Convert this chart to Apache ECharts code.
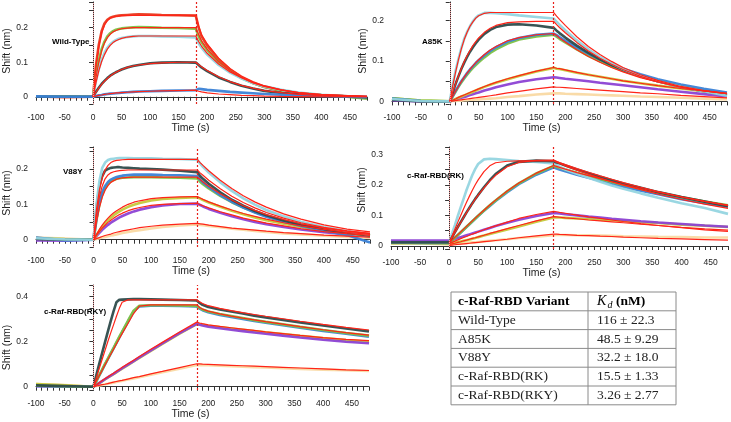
<!DOCTYPE html>
<html><head><meta charset="utf-8">
<script src="https://cdn.jsdelivr.net/npm/echarts@6/dist/echarts.min.js"></script>
<style>html,body{margin:0;padding:0;background:#fff}#c{width:731px;height:422px}</style>
</head><body><div id="c"></div>
<script>
// ---- time axes (s) ----
const T_BASE = [-100, -50];
const T_ASSOC = [0,5,10,15,20,25,30,35,40,45,50,60,70,80,100,120,150,180];
const T_DISS = [185,190,200,220,240,260,280,300,330,360,400,440,480];

// ---- panel titles and Kd table ----
const panelNames = ['Wild-Type','A85K','V88Y','c-Raf-RBD(RK)','c-Raf-RBD(RKY)'];
const tableVariants = ['Wild-Type','A85K','V88Y','c-Raf-RBD(RK)','c-Raf-RBD(RKY)'];
const tableKd = ['116 ± 22.3','48.5 ± 9.29','32.2 ± 18.0','15.5 ± 1.33','3.26 ± 2.77'];

// ---- Wild-Type ----
const wtRed = {base:[0.001,-0.001], a:[0,0.09,0.15,0.19,0.212,0.223,0.229,0.232,0.234,0.235,0.236,0.237,0.238,0.239,0.238,0.237,0.236,0.235], d:[0.2,0.175,0.148,0.108,0.078,0.056,0.04,0.028,0.017,0.01,0.005,0.002,-0.002]};
const wtRedFit = {a:[0,0.085,0.145,0.185,0.208,0.221,0.228,0.231,0.233,0.234,0.235,0.236,0.236,0.236,0.236,0.236,0.236,0.236], d:[0.205,0.18,0.153,0.112,0.082,0.06,0.044,0.032,0.02,0.012,0.006,0.003,0.0015]};
const wtGreen = {base:[0,0.001], a:[0,0.06,0.105,0.138,0.16,0.175,0.184,0.19,0.194,0.196,0.198,0.2,0.201,0.202,0.201,0.2,0.199,0.197], d:[0.175,0.158,0.135,0.1,0.074,0.054,0.04,0.029,0.018,0.011,0.005,0.001,-0.006]};
const wtGreenFit = {a:[0,0.055,0.1,0.133,0.156,0.171,0.181,0.188,0.192,0.195,0.197,0.199,0.2,0.2,0.2,0.2,0.2,0.2], d:[0.18,0.162,0.138,0.102,0.076,0.056,0.041,0.03,0.019,0.011,0.006,0.003,0.001]};
const wtCyan = {base:[0,0], a:[0,0.045,0.08,0.107,0.127,0.142,0.152,0.159,0.164,0.168,0.17,0.173,0.175,0.176,0.176,0.175,0.174,0.172], d:[0.155,0.142,0.122,0.092,0.07,0.053,0.04,0.03,0.02,0.012,0.006,0.002,-0.003]};
const wtCyanFit = {a:[0,0.04,0.075,0.102,0.122,0.138,0.149,0.157,0.162,0.166,0.169,0.173,0.175,0.176,0.176,0.176,0.176,0.176], d:[0.16,0.147,0.126,0.095,0.072,0.055,0.041,0.031,0.02,0.012,0.006,0.003,0.001]};
const wtDark = {base:[0,0], a:[0,0.014,0.026,0.037,0.046,0.054,0.061,0.066,0.071,0.075,0.079,0.085,0.089,0.092,0.097,0.099,0.1,0.099], d:[0.092,0.085,0.074,0.056,0.043,0.032,0.024,0.017,0.011,0.007,0.003,0.001,-0.002]};
const wtDarkFit = {a:[0,0.013,0.025,0.036,0.045,0.053,0.06,0.066,0.071,0.075,0.079,0.085,0.089,0.092,0.096,0.098,0.1,0.1], d:[0.093,0.087,0.076,0.058,0.044,0.033,0.025,0.018,0.012,0.007,0.003,0.001,0.0005]};
const wtBlue = {base:[0.001,0], a:[0,0.002,0.004,0.005,0.007,0.008,0.009,0.0095,0.01,0.011,0.012,0.013,0.014,0.015,0.016,0.017,0.018,0.019], d:[0.023,0.022,0.02,0.017,0.014,0.012,0.01,0.008,0.006,0.004,0.002,0.001,0]};
const wtBlueFit = {a:[0,0.002,0.004,0.005,0.007,0.008,0.009,0.01,0.011,0.011,0.012,0.013,0.014,0.015,0.016,0.017,0.018,0.019], d:[0.016,0.014,0.011,0.008,0.006,0.004,0.003,0.002,0.001,0.0005,0,0,0]};

// ---- A85K ----
const aCyan = {base:[0.006,0.001], a:[0,0.04,0.075,0.105,0.132,0.155,0.172,0.186,0.198,0.207,0.213,0.219,0.219,0.218,0.216,0.213,0.209,0.205], d:[0.197,0.19,0.176,0.151,0.129,0.11,0.094,0.08,0.063,0.05,0.036,0.025,0.014]};
const aCyanFit = {a:[0,0.038,0.072,0.103,0.13,0.153,0.171,0.186,0.197,0.206,0.212,0.218,0.22,0.22,0.22,0.22,0.22,0.22], d:[0.211,0.203,0.188,0.16,0.136,0.116,0.099,0.084,0.066,0.052,0.037,0.027,0.02]};
const aDark = {base:[0.004,0], a:[0,0.022,0.043,0.062,0.08,0.096,0.11,0.123,0.134,0.144,0.153,0.167,0.177,0.184,0.19,0.191,0.188,0.182], d:[0.175,0.169,0.158,0.138,0.12,0.104,0.09,0.078,0.062,0.05,0.036,0.025,0.016]};
const aDarkFit = {a:[0,0.022,0.043,0.063,0.081,0.098,0.113,0.126,0.138,0.148,0.157,0.171,0.181,0.188,0.195,0.197,0.198,0.198], d:[0.19,0.183,0.17,0.146,0.125,0.107,0.092,0.079,0.062,0.049,0.035,0.026,0.019]};
const aBlue = {base:[0.007,0.001], a:[0,0.013,0.026,0.038,0.05,0.06,0.07,0.079,0.087,0.095,0.102,0.114,0.125,0.134,0.148,0.157,0.165,0.168], d:[0.164,0.159,0.15,0.134,0.118,0.104,0.092,0.081,0.067,0.055,0.042,0.031,0.022]};
const aGreen = {base:[0.008,0.002], a:[0,0.012,0.024,0.036,0.047,0.057,0.066,0.075,0.083,0.09,0.097,0.109,0.12,0.129,0.143,0.153,0.161,0.165], d:[0.16,0.155,0.146,0.129,0.113,0.099,0.087,0.076,0.062,0.05,0.037,0.027,0.018]};
const aBlueFit = {a:[0,0.012,0.025,0.037,0.049,0.06,0.07,0.079,0.088,0.096,0.103,0.116,0.127,0.136,0.15,0.158,0.165,0.168], d:[0.163,0.157,0.147,0.128,0.111,0.097,0.084,0.073,0.059,0.048,0.035,0.026,0.019]};
const aOlive = {base:[0.008,0.002], a:[0,0.003,0.006,0.009,0.012,0.015,0.018,0.021,0.024,0.027,0.03,0.036,0.041,0.046,0.055,0.063,0.074,0.083], d:[0.081,0.08,0.077,0.071,0.066,0.061,0.056,0.051,0.045,0.039,0.032,0.025,0.016]};
const aOliveFit = {a:[0,0.003,0.006,0.01,0.013,0.016,0.019,0.022,0.025,0.028,0.031,0.037,0.042,0.047,0.056,0.064,0.075,0.084], d:[0.082,0.081,0.078,0.072,0.066,0.061,0.056,0.051,0.045,0.039,0.032,0.026,0.02]};
const aPurple = {base:[0.003,0], a:[0,0.002,0.005,0.007,0.009,0.011,0.013,0.016,0.018,0.02,0.022,0.027,0.031,0.035,0.042,0.048,0.055,0.06], d:[0.059,0.058,0.056,0.053,0.05,0.046,0.043,0.04,0.035,0.03,0.024,0.018,0.012]};
const aLowFit = {a:[0,0.001,0.002,0.003,0.004,0.005,0.006,0.007,0.008,0.009,0.01,0.012,0.014,0.016,0.021,0.025,0.031,0.036], d:[0.035,0.035,0.034,0.032,0.03,0.028,0.026,0.024,0.021,0.019,0.015,0.012,0.009]};
const aPale = {base:[0.004,0.001], a:[0,0.001,0.001,0.002,0.002,0.003,0.003,0.004,0.004,0.005,0.005,0.006,0.007,0.008,0.011,0.013,0.017,0.02], d:[0.02,0.02,0.019,0.018,0.017,0.016,0.015,0.014,0.012,0.011,0.009,0.007,0.005]};

// ---- V88Y ----
const vCyan = {base:[0.004,0.001], a:[0,0.1,0.165,0.203,0.218,0.225,0.228,0.229,0.23,0.231,0.231,0.231,0.23,0.23,0.23,0.229,0.228,0.226], d:[0.215,0.206,0.19,0.162,0.138,0.117,0.099,0.084,0.066,0.051,0.036,0.024,0.014]};
const vCyanFit = {a:[0,0.085,0.14,0.175,0.197,0.21,0.218,0.222,0.224,0.225,0.226,0.227,0.227,0.227,0.227,0.227,0.227,0.227], d:[0.218,0.21,0.195,0.168,0.145,0.124,0.107,0.092,0.073,0.058,0.042,0.03,0.022]};
const vDark = {base:[0.002,0], a:[0,0.09,0.15,0.18,0.195,0.2,0.203,0.204,0.205,0.205,0.204,0.203,0.202,0.201,0.2,0.198,0.195,0.191], d:[0.18,0.172,0.158,0.134,0.113,0.096,0.081,0.069,0.054,0.042,0.03,0.02,0.012]};
const vDarkFit = {a:[0,0.07,0.12,0.152,0.172,0.183,0.189,0.192,0.194,0.195,0.196,0.197,0.197,0.197,0.197,0.197,0.197,0.197], d:[0.189,0.182,0.168,0.144,0.123,0.105,0.09,0.077,0.061,0.048,0.035,0.025,0.018]};
const vBlue = {base:[0.006,-0.002], a:[0,0.06,0.105,0.135,0.152,0.163,0.17,0.174,0.177,0.179,0.181,0.183,0.184,0.184,0.184,0.183,0.182,0.18], d:[0.17,0.162,0.149,0.126,0.107,0.091,0.077,0.065,0.051,0.039,0.026,0.013,-0.008]};
const vGreen = {base:[0.003,0], a:[0,0.055,0.098,0.128,0.146,0.158,0.165,0.169,0.172,0.174,0.175,0.176,0.177,0.177,0.177,0.176,0.175,0.173], d:[0.164,0.157,0.145,0.124,0.106,0.091,0.078,0.067,0.053,0.042,0.03,0.02,0.012]};
const vGreenFit = {a:[0,0.05,0.09,0.12,0.14,0.153,0.162,0.167,0.171,0.173,0.175,0.176,0.177,0.177,0.177,0.177,0.177,0.177], d:[0.17,0.163,0.151,0.13,0.112,0.096,0.083,0.071,0.057,0.045,0.033,0.024,0.017]};
const vOlive = {base:[0.005,0.002], a:[0,0.013,0.025,0.036,0.046,0.055,0.062,0.069,0.075,0.08,0.085,0.093,0.099,0.104,0.111,0.115,0.118,0.12], d:[0.116,0.112,0.105,0.093,0.082,0.072,0.063,0.055,0.045,0.036,0.026,0.018,0.012]};
const vOliveFit = {a:[0,0.015,0.029,0.041,0.052,0.061,0.069,0.076,0.082,0.087,0.092,0.1,0.106,0.11,0.116,0.119,0.121,0.122], d:[0.118,0.114,0.107,0.095,0.084,0.074,0.066,0.058,0.048,0.039,0.029,0.021,0.015]};
const vPurple = {base:[-0.002,-0.003], a:[0,0.01,0.019,0.028,0.035,0.042,0.048,0.053,0.058,0.063,0.067,0.074,0.08,0.085,0.092,0.097,0.101,0.102], d:[0.098,0.094,0.087,0.076,0.066,0.058,0.05,0.044,0.036,0.029,0.021,0.015,0.01]};
const vPurpleFit = {a:[0,0.012,0.023,0.033,0.041,0.049,0.055,0.061,0.066,0.071,0.075,0.082,0.087,0.091,0.097,0.1,0.102,0.103], d:[0.099,0.096,0.09,0.079,0.07,0.061,0.054,0.047,0.039,0.031,0.023,0.017,0.012]};
const vPale = {base:[0.006,0.003], a:[0,0.002,0.004,0.006,0.008,0.01,0.012,0.013,0.015,0.017,0.019,0.022,0.025,0.027,0.032,0.036,0.04,0.043], d:[0.042,0.041,0.039,0.035,0.031,0.028,0.025,0.022,0.018,0.015,0.011,0.008,0.005]};
const vPaleFit = {a:[0,0.003,0.006,0.009,0.012,0.014,0.016,0.019,0.021,0.023,0.025,0.028,0.031,0.034,0.038,0.041,0.044,0.046], d:[0.045,0.044,0.041,0.037,0.033,0.03,0.027,0.024,0.02,0.017,0.013,0.01,0.007]};

// ---- c-Raf-RBD(RK) ----
const rCyan = {base:[0.012,0.012], a:[0.012,0.04,0.068,0.098,0.127,0.155,0.183,0.208,0.232,0.252,0.268,0.283,0.285,0.284,0.281,0.278,0.275,0.27], d:[0.264,0.259,0.25,0.236,0.223,0.21,0.198,0.187,0.172,0.158,0.14,0.124,0.105]};
const rCyanFit = {a:[0.01,0.032,0.055,0.078,0.1,0.122,0.143,0.163,0.182,0.2,0.216,0.243,0.262,0.272,0.277,0.278,0.278,0.278], d:[0.274,0.27,0.262,0.248,0.235,0.222,0.21,0.199,0.184,0.169,0.152,0.137,0.123]};
const rDark = {base:[0.012,0.012], a:[0.012,0.028,0.045,0.062,0.078,0.094,0.11,0.125,0.14,0.154,0.167,0.192,0.215,0.235,0.263,0.275,0.279,0.277], d:[0.273,0.27,0.263,0.25,0.238,0.226,0.215,0.204,0.19,0.176,0.16,0.145,0.13]};
const rDarkFit = {a:[0.01,0.027,0.044,0.061,0.077,0.093,0.109,0.124,0.139,0.153,0.166,0.19,0.212,0.231,0.259,0.273,0.28,0.281], d:[0.277,0.273,0.266,0.253,0.241,0.229,0.218,0.207,0.192,0.178,0.161,0.146,0.132]};
const rGreen = {base:[0.01,0.01], a:[0.01,0.018,0.027,0.036,0.045,0.054,0.063,0.072,0.081,0.09,0.099,0.116,0.133,0.149,0.179,0.205,0.237,0.262], d:[0.259,0.256,0.25,0.239,0.229,0.219,0.209,0.2,0.187,0.175,0.159,0.145,0.133]};
const rBlue = {base:[0.012,0.01], a:[0.01,0.018,0.026,0.035,0.044,0.053,0.062,0.071,0.08,0.089,0.098,0.115,0.131,0.147,0.176,0.202,0.233,0.257], d:[0.253,0.25,0.244,0.233,0.223,0.213,0.203,0.194,0.181,0.169,0.153,0.14,0.128]};
const rGreenFit = {a:[0.01,0.019,0.028,0.037,0.046,0.055,0.064,0.073,0.082,0.091,0.1,0.117,0.134,0.15,0.18,0.206,0.238,0.263], d:[0.26,0.257,0.251,0.24,0.23,0.22,0.21,0.201,0.188,0.176,0.16,0.146,0.134]};
const rPurple = {base:[0.018,0.018], a:[0.018,0.02,0.023,0.026,0.029,0.032,0.035,0.038,0.041,0.044,0.047,0.053,0.059,0.065,0.076,0.086,0.098,0.108], d:[0.107,0.106,0.104,0.1,0.096,0.093,0.089,0.086,0.081,0.077,0.072,0.067,0.063]};
const rPurpleFit = {a:[0.008,0.012,0.016,0.02,0.024,0.028,0.031,0.035,0.039,0.042,0.046,0.053,0.06,0.066,0.078,0.09,0.103,0.113], d:[0.112,0.11,0.107,0.101,0.095,0.09,0.085,0.08,0.073,0.067,0.06,0.053,0.048]};
const rOlive = {base:[0.01,0.01], a:[0.008,0.009,0.011,0.013,0.015,0.017,0.019,0.021,0.024,0.026,0.029,0.034,0.039,0.044,0.054,0.064,0.079,0.093], d:[0.093,0.093,0.092,0.09,0.088,0.086,0.084,0.082,0.078,0.075,0.07,0.066,0.062]};
const rOliveFit = {a:[0.005,0.007,0.009,0.012,0.014,0.017,0.019,0.022,0.025,0.027,0.03,0.035,0.041,0.046,0.057,0.067,0.082,0.096], d:[0.095,0.094,0.092,0.089,0.085,0.082,0.079,0.076,0.071,0.067,0.061,0.056,0.052]};
const rLowFit = {a:[0.002,0.003,0.004,0.005,0.006,0.007,0.008,0.009,0.01,0.011,0.012,0.014,0.016,0.018,0.022,0.027,0.033,0.039], d:[0.039,0.038,0.037,0.035,0.034,0.032,0.031,0.029,0.027,0.025,0.023,0.021,0.019]};
const rPale = {base:[0.008,0.008], a:[0.005,0.006,0.007,0.008,0.008,0.009,0.01,0.011,0.012,0.012,0.013,0.015,0.017,0.019,0.022,0.026,0.03,0.035], d:[0.036,0.036,0.036,0.035,0.035,0.034,0.033,0.032,0.031,0.03,0.029,0.028,0.028]};

// ---- c-Raf-RBD(RKY) ----
const kDark = {base:[0.006,0.003], a:[0,0.05,0.1,0.148,0.196,0.244,0.29,0.335,0.375,0.386,0.387,0.388,0.389,0.389,0.388,0.387,0.385,0.383], d:[0.372,0.364,0.354,0.343,0.334,0.325,0.316,0.308,0.297,0.286,0.272,0.259,0.246]};
const kDarkFit = {a:[0,0.04,0.08,0.12,0.16,0.2,0.238,0.275,0.312,0.347,0.375,0.386,0.386,0.386,0.386,0.386,0.386,0.386], d:[0.377,0.37,0.36,0.348,0.338,0.329,0.321,0.313,0.302,0.291,0.277,0.264,0.252]};
const kGreen = {base:[0.004,0.002], a:[0,0.025,0.05,0.075,0.1,0.124,0.148,0.172,0.197,0.221,0.245,0.292,0.338,0.36,0.362,0.362,0.361,0.359], d:[0.35,0.343,0.334,0.323,0.314,0.305,0.296,0.288,0.277,0.266,0.252,0.239,0.227]};
const kBlue = {base:[0.003,0.001], a:[0,0.024,0.049,0.073,0.098,0.122,0.146,0.17,0.194,0.218,0.242,0.288,0.334,0.357,0.36,0.36,0.359,0.357], d:[0.347,0.34,0.331,0.319,0.31,0.301,0.292,0.284,0.273,0.262,0.248,0.235,0.222]};
const kGreenFit = {a:[0,0.024,0.048,0.072,0.096,0.12,0.143,0.166,0.19,0.213,0.236,0.28,0.325,0.358,0.364,0.364,0.364,0.364], d:[0.352,0.345,0.336,0.324,0.314,0.305,0.297,0.289,0.278,0.267,0.253,0.24,0.229]};
const kPurple = {base:[0.002,0], a:[0,0.008,0.016,0.025,0.033,0.041,0.049,0.057,0.066,0.074,0.082,0.098,0.114,0.13,0.161,0.192,0.238,0.279], d:[0.275,0.272,0.267,0.26,0.253,0.247,0.241,0.235,0.227,0.219,0.209,0.2,0.193]};
const kOlive = {base:[0.012,0.006], a:[0,0.008,0.016,0.024,0.032,0.04,0.048,0.056,0.064,0.072,0.08,0.096,0.112,0.128,0.159,0.19,0.236,0.278], d:[0.277,0.275,0.271,0.265,0.259,0.253,0.247,0.242,0.234,0.226,0.216,0.207,0.2]};
const kMidFit = {a:[0,0.009,0.017,0.026,0.035,0.043,0.052,0.06,0.069,0.077,0.086,0.102,0.118,0.134,0.166,0.197,0.243,0.287], d:[0.283,0.28,0.275,0.268,0.262,0.256,0.25,0.244,0.236,0.228,0.218,0.21,0.205]};
const kPale = {base:[0.012,0.007], a:[0,0.003,0.005,0.008,0.011,0.013,0.016,0.018,0.021,0.024,0.026,0.032,0.037,0.042,0.053,0.064,0.08,0.096], d:[0.096,0.096,0.095,0.093,0.091,0.089,0.087,0.085,0.082,0.079,0.076,0.073,0.07]};
const kPaleFit = {a:[0,0.003,0.006,0.009,0.011,0.014,0.017,0.02,0.023,0.026,0.028,0.034,0.04,0.045,0.057,0.068,0.085,0.102], d:[0.101,0.1,0.099,0.097,0.095,0.093,0.091,0.089,0.086,0.083,0.079,0.075,0.072]};

// ---- styling ----
const C = {red:'#e63b1f', green:'#7dc243', cyan:'#95d5e0', dark:'#2e4b4b', blue:'#3b82d6', purple:'#8c42d4', olive:'#c5c93a', pale:'#f9d9a3', fit:'#ff2418'};

const panels = [
  {traces:[[wtRed,C.red],[wtGreen,C.green],[wtCyan,C.cyan],[wtDark,C.dark],[wtBlue,C.blue]],
   fits:[wtRedFit,wtGreenFit,wtCyanFit,wtDarkFit,wtBlueFit]},
  {traces:[[aPale,C.pale],[aPurple,C.purple],[aOlive,C.olive],[aGreen,C.green],[aBlue,C.blue],[aDark,C.dark],[aCyan,C.cyan]],
   fits:[aLowFit,aOliveFit,aBlueFit,aDarkFit,aCyanFit]},
  {traces:[[vPale,C.pale],[vPurple,C.purple],[vOlive,C.olive],[vGreen,C.green],[vBlue,C.blue],[vDark,C.dark],[vCyan,C.cyan]],
   fits:[vPaleFit,vPurpleFit,vOliveFit,vGreenFit,vDarkFit,vCyanFit]},
  {traces:[[rPale,C.pale],[rOlive,C.olive],[rPurple,C.purple],[rBlue,C.blue],[rGreen,C.green],[rCyan,C.cyan],[rDark,C.dark]],
   fits:[rLowFit,rOliveFit,rPurpleFit,rGreenFit,rDarkFit,rCyanFit]},
  {traces:[[kPale,C.pale],[kOlive,C.olive],[kPurple,C.purple],[kBlue,C.blue],[kGreen,C.green],[kDark,C.dark]],
   fits:[kPaleFit,kMidFit,kGreenFit,kDarkFit]}
];

const grids = [
  {left:36, top:2, width:331, height:102},
  {left:392, top:2, width:335, height:102},
  {left:36, top:147, width:334, height:100},
  {left:391, top:147, width:337, height:102},
  {left:36, top:285, width:333, height:105}
];
const yRange = [[-0.021,0.2745],[-0.0064,0.246],[-0.0206,0.262],[-0.0098,0.3235],[-0.0147,0.452]];
const ySplit = [6,5,6,7,9];
const yLabelStep = [0.1,0.1,0.1,0.1,0.2];
const xNamePad = [22,36,24,36,24];
const yNamePad = [[0,0,0,4],[0,0,0,4],[0,0,0,8],[0,0,0,16],[0,20,0,0]];
const labelPos = [[52,43],[422,43],[63,173],[407,177],[44,313]];

const AX = '#333';
const xAxes = [], yAxes = [], series = [];
grids.forEach((g,i)=>{
  xAxes.push({gridIndex:i, type:'value', min:-100, max:480, interval:10,
    axisLine:{lineStyle:{color:AX,width:1}}, axisTick:{length:4,lineStyle:{color:AX}},
    splitLine:{show:false},
    axisLabel:{fontSize:8.5, color:'#222', margin:9, fontFamily:'Liberation Sans',
      formatter:v=> (Math.round(v)%50===0 ? String(Math.round(v)) : '')},
    name:'Time (s)', nameLocation:'middle', nameGap:18,
    nameTextStyle:{fontSize:10.5, color:'#222', fontFamily:'Liberation Sans', padding:[0,xNamePad[i],0,0]}
  });
  const step = yLabelStep[i];
  yAxes.push({gridIndex:i, type:'value', min:yRange[i][0], max:yRange[i][1], splitNumber:ySplit[i],
    axisLine:{show:true, lineStyle:{color:AX,width:1}}, axisTick:{show:true,length:4,lineStyle:{color:AX}},
    splitLine:{show:false}, showMinLabel:false, showMaxLabel:false,
    axisLabel:{fontSize:8.5, color:'#222', margin:8, fontFamily:'Liberation Sans',
      formatter:v=>{const k=v/step; return Math.abs(k-Math.round(k))<1e-6 ? String(Math.round(Math.round(k)*step*10)/10) : '';}},
    name:'Shift (nm)', nameLocation:'middle', nameGap:22,
    nameTextStyle:{fontSize:10.5, color:'#222', fontFamily:'Liberation Sans', padding:yNamePad[i]}
  });
});

function pairs(obj){
  const out = [];
  if (obj.base) T_BASE.forEach((t,j)=>out.push([t,obj.base[j]]));
  T_ASSOC.forEach((t,j)=>out.push([t,obj.a[j]]));
  T_DISS.forEach((t,j)=>out.push([t,obj.d[j]]));
  return out;
}

panels.forEach((p,i)=>{
  p.traces.forEach(([obj,col],j)=>{
    const s = {type:'line', xAxisIndex:i, yAxisIndex:i, data:pairs(obj), showSymbol:false, symbol:'none',
      lineStyle:{color:col, width:2.6, opacity:0.95}, z:2, silent:true};
    if (j===0) {
      s.markLine = {symbol:['none','none'], silent:true, label:{show:false}, animation:false,
        data:[{xAxis:0, lineStyle:{color:'#f4a0a0', type:'dotted', width:1}},
              {xAxis:180, lineStyle:{color:'#e8201a', type:[2,2], width:1.2}}]};
    }
    series.push(s);
  });
  p.fits.forEach(obj=>{
    series.push({type:'line', xAxisIndex:i, yAxisIndex:i, data:pairs(obj), showSymbol:false, symbol:'none',
      lineStyle:{color:C.fit, width:1.2}, z:3, silent:true});
  });
});

// ---- graphic: panel labels and Kd table ----
const graphic = [];
panelNames.forEach((n,i)=>{
  graphic.push({type:'text', left:labelPos[i][0], top:labelPos[i][1]-5, z:10,
    style:{text:n, font:'bold 8px "Liberation Sans", Arial, sans-serif', fill:'#000'}});
});
const tx0 = 451, tx1 = 676, tdiv = 588, ty0 = 292, rowH = 18.8;
const lineC = '#8a8a8a';
graphic.push({type:'rect', shape:{x:tx0, y:ty0, width:tx1-tx0, height:rowH*6}, style:{fill:'#fff', stroke:lineC, lineWidth:1}, z:5});
for (let r=1;r<6;r++) graphic.push({type:'line', shape:{x1:tx0,y1:ty0+r*rowH,x2:tx1,y2:ty0+r*rowH}, style:{stroke:lineC,lineWidth:1}, z:6});
graphic.push({type:'line', shape:{x1:tdiv,y1:ty0,x2:tdiv,y2:ty0+6*rowH}, style:{stroke:lineC,lineWidth:1}, z:6});
const serif = '"Liberation Serif", "Times New Roman", serif';
graphic.push({type:'text', x:458, y:ty0+rowH/2, z:7, style:{text:'c-Raf-RBD Variant', font:'bold 13.5px '+serif, fill:'#000', verticalAlign:'middle'}});
graphic.push({type:'text', x:597, y:ty0+rowH/2, z:7, style:{text:'K', font:'italic 14px '+serif, fill:'#000', verticalAlign:'middle'}});
graphic.push({type:'text', x:607.5, y:ty0+rowH/2+4, z:7, style:{text:'d', font:'italic 10px '+serif, fill:'#000', verticalAlign:'middle'}});
graphic.push({type:'text', x:616, y:ty0+rowH/2, z:7, style:{text:'(nM)', font:'bold 13.5px '+serif, fill:'#000', verticalAlign:'middle'}});
tableVariants.forEach((v,r)=>{
  const yc = ty0 + (r+1.5)*rowH;
  graphic.push({type:'text', x:458, y:yc, z:7, style:{text:v, font:'13.5px '+serif, fill:'#222', verticalAlign:'middle'}});
  graphic.push({type:'text', x:597, y:yc, z:7, style:{text:tableKd[r], font:'13.5px '+serif, fill:'#222', verticalAlign:'middle'}});
});

const chart = echarts.init(document.getElementById('c'), null, {renderer:'canvas'});
chart.setOption({
  animation:false, backgroundColor:'#fff',
  grid:grids, xAxis:xAxes, yAxis:yAxes, series:series, graphic:graphic
});
</script></body></html>
